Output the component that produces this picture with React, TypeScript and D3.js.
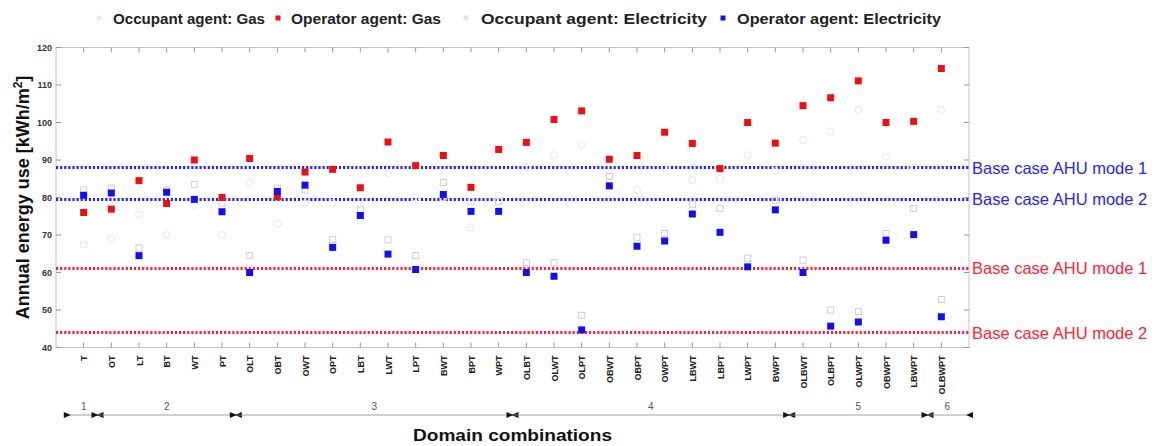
import React from 'react'
import * as d3 from 'd3'

const categories = ['T', 'OT', 'LT', 'BT', 'WT', 'PT', 'OLT', 'OBT', 'OWT', 'OPT', 'LBT', 'LWT', 'LPT', 'BWT', 'BPT', 'WPT',
  'OLBT', 'OLWT', 'OLPT', 'OBWT', 'OBPT', 'OWPT', 'LBWT', 'LBPT', 'LWPT', 'BWPT', 'OLBWT', 'OLBPT', 'OLWPT', 'OBWPT', 'LBWPT', 'OLBWPT']

const occupantGas = [67.5, 69, 75.5, 70, 78, 70, 84, 73, 78.5, 78.5, 74, 86.5, 80, 80, 72, 80.5,
  88, 91.3, 94, 86, 82, 88, 84.7, 85, 91.3, 87, 95.3, 97.6, 103.3, 90.9, 88, 103.3]
const operatorGas = [76.0, 76.9, 84.5, 78.4, 90.0, 80.0, 90.4, 80.2, 86.8, 87.5, 82.6, 94.8, 88.5, 91.2, 82.7, 92.8,
  94.7, 100.8, 103.1, 90.2, 91.2, 97.4, 94.4, 87.7, 100.0, 94.5, 104.5, 106.6, 111.1, 100.0, 100.3, 114.4]
const occupantElec = [82, 82.5, 66.5, 82, 83.5, 78.5, 64.5, 82.5, 82, 68.8, 76.7, 68.7, 64.5, 84, 79, 79,
  62.6, 62.6, 48.6, 85.6, 69.4, 70.4, 78.2, 77.1, 63.8, 79.3, 63.3, 50, 49.6, 70.4, 77.1, 52.8]
const operatorElec = [80.6, 81.2, 64.5, 81.4, 79.5, 76.2, 60.0, 81.6, 83.3, 66.7, 75.2, 64.9, 60.8, 80.8, 76.3, 76.3,
  60.0, 59.0, 44.7, 83.1, 67.0, 68.4, 75.6, 70.7, 61.5, 76.7, 60.0, 45.7, 46.8, 68.6, 70.1, 48.2]

const baseValues = [88, 79.5, 61.1, 44]
const baseLabels = ['Base case AHU mode 1', 'Base case AHU mode 2', 'Base case AHU mode 1', 'Base case AHU mode 2']
const baseColors = ['#2424ff', '#2424ff', '#ff2236', '#ff2236']

const groupNames = ['1', '2', '3', '4', '5', '6']
const groupFirst = [0, 1, 6, 16, 26, 31]
const groupLast = [0, 5, 15, 25, 30, 31]

const yTicks = [40, 50, 60, 70, 80, 90, 100, 110, 120]

const legendLabels = ['Occupant agent: Gas', 'Operator agent: Gas', 'Occupant agent: Electricity', 'Operator agent: Electricity']

const W = 1152
const H = 446
const left = 56
const right = 969
const top = 47.5
const bottom = 347.5
const font = '"Liberation Sans", Arial, sans-serif'

export default function App() {
  const x = d3.scalePoint<string>().domain(categories).range([left, right]).padding(1)
  const y = d3.scaleLinear().domain([40, 120]).range([bottom, top])
  const step = x.step()
  const xi = (i: number) => x(categories[i]) as number

  // legend: marker x, text x, text width
  const legendX = [99, 278, 466, 723]
  const legendTextX = [113, 291, 481, 737]
  const legendW = [152, 150, 226, 204]
  const arrowY = 415

  const arrow = (px: number, dir: number, key: string) => (
    <path key={key} d={`M${px},${arrowY} l${-dir * 7},-3 l0,6 Z`} fill="#111" />
  )

  return (
    <svg width={W} height={H} style={{ position: 'absolute', left: 0, top: 0, background: '#fff' }} fontFamily={font}>
      {/* legend */}
      {legendLabels.map((t, i) => (
        <g key={t}>
          {i === 0 && <circle cx={legendX[i]} cy={18} r={2.5} fill="#fae0e0" />}
          {i === 1 && <rect x={legendX[i] - 2.5} y={15.5} width={5} height={5} fill="#f01010" />}
          {i === 2 && <rect x={legendX[i] - 2.5} y={15.5} width={5} height={5} fill="#e6e6ee" />}
          {i === 3 && <rect x={legendX[i] - 2.5} y={15.5} width={5} height={5} fill="#1010f0" />}
          <text x={legendTextX[i]} y={24} fontSize={15.5} fontWeight="bold" fill="#222"
            textLength={legendW[i]} lengthAdjust="spacingAndGlyphs">{t}</text>
        </g>
      ))}

      {/* plot box */}
      <rect x={left} y={top} width={right - left} height={bottom - top} fill="none" stroke="#c4c4c4" strokeWidth={1} />

      {/* y ticks */}
      {yTicks.map(v => (
        <g key={v}>
          <line x1={left} x2={left + 5} y1={y(v)} y2={y(v)} stroke="#999" />
          <line x1={right} x2={right - 5} y1={y(v)} y2={y(v)} stroke="#999" />
          <text x={left - 4} y={y(v) + 3} fontSize={9} fontWeight="bold" textAnchor="end" fill="#333">{v}</text>
        </g>
      ))}

      {/* x ticks and labels */}
      {categories.map((c, i) => (
        <g key={c}>
          <line x1={xi(i)} x2={xi(i)} y1={bottom} y2={bottom - 5} stroke="#999" />
          <line x1={xi(i)} x2={xi(i)} y1={top} y2={top + 5} stroke="#999" />
          <text transform={`translate(${xi(i) + 3.5},${bottom + 8}) rotate(-90)`} fontSize={9} fontWeight="bold"
            textAnchor="end" fill="#222">{c}</text>
        </g>
      ))}

      {/* base case lines */}
      {baseValues.map((v, i) => (
        <g key={i}>
          <line x1={left} x2={right} y1={y(v)} y2={y(v)} stroke={baseColors[i]} strokeWidth={3}
            strokeDasharray="2.2 1.9" />
          <text x={right + 3} y={y(v) + 6} fontSize={16.5} fill={baseColors[i]}>{baseLabels[i]}</text>
        </g>
      ))}

      {/* occupant agent markers (faint) */}
      {occupantGas.map((v, i) => (
        <circle key={'og' + i} cx={xi(i)} cy={y(v)} r={3.5} fill="none" stroke="#f9e0e0" strokeWidth={1} />
      ))}
      {occupantElec.map((v, i) => (
        <rect key={'oe' + i} x={xi(i) - 3} y={y(v) - 3} width={6} height={6} fill="none" stroke="#ccccee" strokeWidth={1} />
      ))}

      {/* operator agent markers */}
      {operatorGas.map((v, i) => (
        <rect key={'pg' + i} x={xi(i) - 3.5} y={y(v) - 3.5} width={7} height={7} fill="#f00f0f" />
      ))}
      {operatorElec.map((v, i) => (
        <rect key={'pe' + i} x={xi(i) - 3.5} y={y(v) - 3.5} width={7} height={7} fill="#1010f0" />
      ))}

      {/* y axis title */}
      <text transform={`translate(29,${(top + bottom) / 2}) rotate(-90)`} fontSize={18} fontWeight="bold"
        textAnchor="middle" fill="#111">
        Annual energy use [kWh/m<tspan dy={-7} fontSize={12}>2</tspan><tspan dy={7}>]</tspan>
      </text>

      {/* domain group arrows */}
      {groupNames.map((g, k) => {
        const x1 = xi(groupFirst[k]) - step / 2
        const x2 = k === groupNames.length - 1 ? right - 2 : xi(groupLast[k]) + step / 2
        return (
          <g key={g}>
            <line x1={x1} x2={x2} y1={arrowY} y2={arrowY} stroke="#888" strokeWidth={0.8} />
            {arrow(x1 + 1, 1, 'a')}
            {arrow(x2 - 1, -1, 'b')}
            <text x={(x1 + x2) / 2} y={arrowY - 5} fontSize={10} textAnchor="middle" fill="#555">{g}</text>
          </g>
        )
      })}

      <text x={413} y={441} fontSize={17} fontWeight="bold" fill="#111"
        textLength={199} lengthAdjust="spacingAndGlyphs">Domain combinations</text>
    </svg>
  )
}
